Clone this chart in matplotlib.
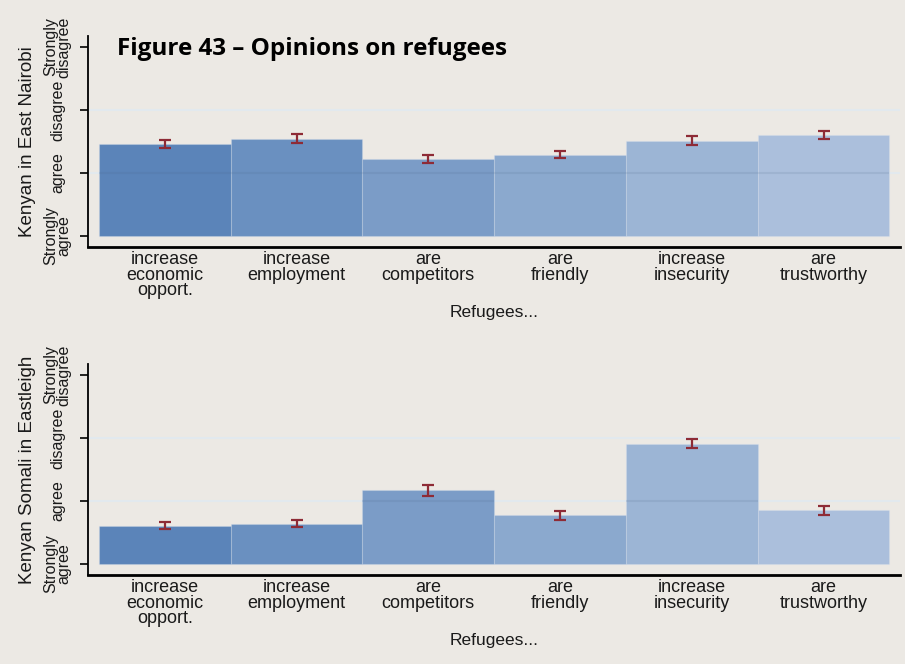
import numpy as np
import matplotlib.pyplot as plt

# categories and values (1 = Strongly agree ... 4 = Strongly disagree)
categories = ['increase\neconomic\nopport.', 'increase\nemployment', 'are\ncompetitors',
              'are\nfriendly', 'increase\ninsecurity', 'are\ntrustworthy']
nairobi_mean = [2.46, 2.54, 2.22, 2.29, 2.51, 2.60]
nairobi_err = [0.07, 0.07, 0.06, 0.06, 0.07, 0.06]
eastleigh_mean = [1.61, 1.64, 2.17, 1.77, 2.91, 1.85]
eastleigh_err = [0.06, 0.06, 0.09, 0.07, 0.07, 0.07]
ytick_labels = ['Strongly\nagree', 'agree', 'disagree', 'Strongly\ndisagree']
panel_titles = ['Kenyan in East Nairobi', 'Kenyan Somali in Eastleigh']

bar_colors = ['#5B84B9', '#6A90C0', '#7B9CC7', '#8BA9CE', '#9CB5D5', '#ABBFDC']
bg = '#ECE9E4'
err_color = '#8E2B36'

plt.rcParams['font.family'] = ['Liberation Sans', 'DejaVu Sans']

fig = plt.figure(figsize=(9.05, 6.64), dpi=100, facecolor=bg)

panels = [(nairobi_mean, nairobi_err, panel_titles[0], 0.628),
          (eastleigh_mean, eastleigh_err, panel_titles[1], 0.134)]

x = np.arange(1, len(categories) + 1)
for means, errs, ylab, bottom in panels:
    ax = fig.add_axes([0.0972, bottom, 0.8973, 0.318])
    ax.set_facecolor(bg)
    for yv in [2, 3]:
        ax.axhline(yv, color='#E2E9EE', lw=1.5, zorder=0)
    heights = np.array(means) - 1
    ax.bar(x, heights, width=1.0, bottom=1, color=bar_colors,
           edgecolor=(0.85, 0.89, 0.94, 0.25), linewidth=0.8, zorder=2)
    # faint grid line seen through the bars
    for xi, m in zip(x, means):
        if m > 2:
            ax.hlines(2, xi - 0.5, xi + 0.5, color='#4A6585', alpha=0.13, lw=1.5, zorder=3)
    ax.errorbar(x, means, yerr=errs, fmt='none', ecolor=err_color,
                elinewidth=1.6, capsize=4, capthick=1.6, zorder=4)
    ax.set_xlim(0.417, 6.58)
    ax.set_ylim(0.825, 4.175)
    ax.set_yticks([1, 2, 3, 4])
    ax.set_yticklabels(ytick_labels, rotation=90, va='center', ha='center',
                       fontsize=11.5, linespacing=0.9, color='#1a1a1a')
    ax.tick_params(axis='y', length=6, width=1.2, pad=16)
    ax.set_xticks(x)
    ax.set_xticklabels(categories, fontsize=13, linespacing=0.88, color='#1a1a1a')
    ax.tick_params(axis='x', length=0, pad=3)
    ax.spines['top'].set_visible(False)
    ax.spines['right'].set_visible(False)
    ax.spines['left'].set_linewidth(1.3)
    ax.spines['bottom'].set_linewidth(2)
    ax.set_ylabel(ylab, fontsize=13.5, labelpad=5, color='#1a1a1a')
    ax.set_xlabel('Refugees...', fontsize=12.5, labelpad=4, color='#1a1a1a')

fig.text(0.129, 0.926, 'Figure 43 \u2013 Opinions on refugees', fontsize=17.5,
         fontweight='bold', family=['Open Sans', 'DejaVu Sans'], va='center')

fig.savefig('out.png', dpi=100, facecolor=bg)
